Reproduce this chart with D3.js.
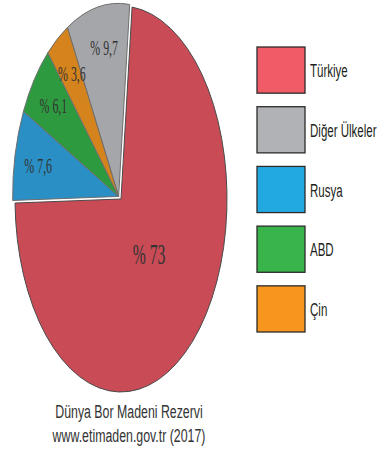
<!DOCTYPE html>
<html>
<head>
<meta charset="utf-8">
<script src="https://cdn.jsdelivr.net/npm/d3@7"></script>
<style>
  html, body { margin: 0; padding: 0; background: #fff; }
  svg { display: block; }
</style>
</head>
<body>
<svg id="chart" width="383" height="458"></svg>
<script>
// Dünya bor madeni rezervi payları (%)
const categories = ["Türkiye", "Diğer Ülkeler", "Rusya", "ABD", "Çin"];
const values = [73, 9.7, 7.6, 6.1, 3.6];
const valueLabels = ["% 73", "% 9,7", "% 7,6", "% 6,1", "% 3,6"];
// clockwise order of the slices around the pie
const pieOrder = ["Türkiye", "Rusya", "ABD", "Çin", "Diğer Ülkeler"];
const sliceColors = ["#C84B56", "#A5A6AA", "#2A8FC5", "#2E9A3F", "#D5841D"];
const legendColors = ["#F15B68", "#B1B2B5", "#23A9E1", "#38B44A", "#F6961E"];
const titleLines = ["Dünya Bor Madeni Rezervi", "www.etimaden.gov.tr (2017)"];

const data = categories.map((name, i) => ({
  name, value: values[i], label: valueLabels[i],
  fill: sliceColors[i], legend: legendColors[i]
}));

const svg = d3.select("#chart");

// narrow text: place at (x, y) and compress horizontally around the anchor
function narrowText(parent, x, y, str, factor) {
  return parent.append("text")
    .attr("x", 0).attr("y", 0)
    .attr("transform", `translate(${x},${y}) scale(${factor},1)`)
    .text(str);
}

// ---- pie (drawn as an upright ellipse) ----
const R = 100;
const cx = 121, cy = 199, sx = 1.06, sy = 1.93;
const offset = 6 * Math.PI / 180;

const pie = d3.pie()
  .value(d => d.value)
  .sort((a, b) => pieOrder.indexOf(a.name) - pieOrder.indexOf(b.name))
  .startAngle(offset)
  .endAngle(offset + 2 * Math.PI);

const arcs = pie(data);
const arc = d3.arc().innerRadius(0).outerRadius(R);

// the smaller slices are pulled slightly out as a group
const rest = arcs.filter(a => a.data.name !== "Türkiye");
const restMid = (d3.min(rest, a => a.startAngle) + d3.max(rest, a => a.endAngle)) / 2;
const explode = 3.5;

const pieG = svg.append("g");

arcs.forEach(a => {
  const isMain = a.data.name === "Türkiye";
  const dx = isMain ? 0 : explode * Math.sin(restMid);
  const dy = isMain ? 0 : -explode * Math.cos(restMid);
  pieG.append("path")
    .attr("transform", `translate(${cx + dx},${cy + dy}) scale(${sx},${sy})`)
    .attr("d", arc(a))
    .attr("fill", a.data.fill)
    .attr("stroke", isMain ? "#4a4a4a" : "#6e6e6e")
    .attr("stroke-width", 1)
    .attr("stroke-linejoin", "round")
    .attr("vector-effect", "non-scaling-stroke");
});

// value labels
arcs.forEach(a => {
  const isMain = a.data.name === "Türkiye";
  const lr = (isMain ? 0.39 : 0.8) * R;
  const c = d3.arc().innerRadius(lr).outerRadius(lr).centroid(a);
  const fs = isMain ? 29 : 22;
  narrowText(pieG, cx + c[0] * sx, cy + c[1] * sy + fs * 0.34, a.data.label, 0.54)
    .attr("text-anchor", "middle")
    .attr("font-family", "'Liberation Serif', 'DejaVu Serif', serif")
    .attr("font-size", fs)
    .attr("fill", "#333");
});

// ---- legend ----
const legendY = d3.scaleBand()
  .domain(categories)
  .range([47, 332])
  .paddingInner(0.227)
  .paddingOuter(0);

const lg = svg.append("g");
data.forEach(d => {
  lg.append("rect")
    .attr("x", 257)
    .attr("y", legendY(d.name))
    .attr("width", 48)
    .attr("height", legendY.bandwidth())
    .attr("fill", d.legend)
    .attr("stroke", "#2b2b2b")
    .attr("stroke-width", 1.3);

  narrowText(lg, 310, legendY(d.name) + legendY.bandwidth() / 2 + 7, d.name, 0.64)
    .attr("font-family", "'Liberation Sans', Arial, sans-serif")
    .attr("font-size", 18)
    .attr("fill", "#231F20");
});

// ---- source caption ----
const cap = svg.append("g");
titleLines.forEach((t, i) => {
  narrowText(cap, 129, 418 + i * 24, t, 0.65)
    .attr("text-anchor", "middle")
    .attr("font-family", "'Liberation Sans', Arial, sans-serif")
    .attr("font-size", 19)
    .attr("fill", "#333");
});
</script>
</body>
</html>
